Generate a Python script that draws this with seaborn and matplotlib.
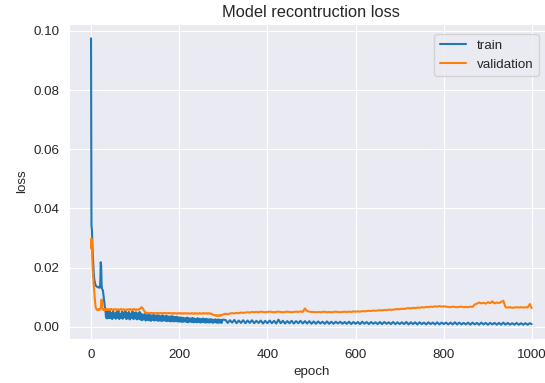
import matplotlib
matplotlib.use("Agg")
import matplotlib.pyplot as plt
import seaborn as sns
import pandas as pd

# ---------------- data ----------------
epochs = (list(range(0, 41)) + list(range(42, 300, 2))
          + list(range(305, 1000, 5)) + [999])

train_loss = [
    # 0-40
    0.0975, 0.0340, 0.0330, 0.0285, 0.0240, 0.0210, 0.0185, 0.0165, 0.0155, 0.0148,
    0.0142, 0.0139, 0.0137, 0.0136, 0.0135, 0.0134, 0.0134, 0.0133, 0.0133, 0.0132,
    0.0132, 0.0150, 0.0218, 0.0205, 0.0140, 0.0128, 0.0125, 0.0122, 0.0110, 0.0095,
    0.0085, 0.0070, 0.0062, 0.0050, 0.0031, 0.0054, 0.0028, 0.0049, 0.0033, 0.0055,
    0.0029,
    # 42-110 (step 2)
    0.0052, 0.0029, 0.0047, 0.0026, 0.0054, 0.0031, 0.0045, 0.0027, 0.0050, 0.0030,
    0.0055, 0.0026, 0.0043, 0.0029, 0.0051, 0.0027, 0.0048, 0.0032, 0.0053, 0.0026,
    0.0046, 0.0028, 0.0050, 0.0025, 0.0044, 0.0030, 0.0052, 0.0026, 0.0047, 0.0028,
    0.0049, 0.0025, 0.0045, 0.0027, 0.0050,
    # 112-200 (step 2)
    0.0024, 0.0044, 0.0022, 0.0041, 0.0025, 0.0043, 0.0021, 0.0039, 0.0023, 0.0042,
    0.0022, 0.0040, 0.0020, 0.0038, 0.0023, 0.0041, 0.0021, 0.0037, 0.0022, 0.0039,
    0.0020, 0.0038, 0.0021, 0.0036, 0.0019, 0.0039, 0.0021, 0.0035, 0.0020, 0.0037,
    0.0019, 0.0036, 0.0020, 0.0034, 0.0018, 0.0036, 0.0019, 0.0035, 0.0018, 0.0033,
    0.0019, 0.0034, 0.0018, 0.0032, 0.0017,
    # 202-298 (step 2)
    0.0032, 0.0017, 0.0031, 0.0016, 0.0030, 0.0018, 0.0029, 0.0016, 0.0031, 0.0015,
    0.0029, 0.0017, 0.0028, 0.0016, 0.0030, 0.0015, 0.0028, 0.0016, 0.0027, 0.0015,
    0.0029, 0.0016, 0.0027, 0.0014, 0.0026, 0.0016, 0.0028, 0.0015, 0.0026, 0.0014,
    0.0027, 0.0015, 0.0025, 0.0014, 0.0026, 0.0015, 0.0025, 0.0013, 0.0024, 0.0015,
    0.0025, 0.0014, 0.0024, 0.0013, 0.0025, 0.0014, 0.0023, 0.0013, 0.0024,
    # 305-500 (step 5)
    0.0023, 0.0013, 0.0022, 0.0014, 0.0023, 0.0012, 0.0021, 0.0013, 0.0022, 0.0012,
    0.0021, 0.0013, 0.0022, 0.0012, 0.0020, 0.0013, 0.0021, 0.0011, 0.0020, 0.0012,
    0.0021, 0.0012, 0.0020, 0.0011, 0.0024, 0.0012, 0.0020, 0.0011, 0.0019, 0.0012,
    0.0020, 0.0011, 0.0019, 0.0012, 0.0020, 0.0011, 0.0019, 0.0011, 0.0019, 0.0010,
    # 505-600
    0.0018, 0.0010, 0.0018, 0.0011, 0.0017, 0.0010, 0.0018, 0.0010, 0.0017, 0.0010,
    0.0017, 0.0011, 0.0017, 0.0010, 0.0016, 0.0010, 0.0017, 0.0009, 0.0016, 0.0010,
    # 605-700
    0.0016, 0.0009, 0.0017, 0.0010, 0.0016, 0.0009, 0.0016, 0.0010, 0.0015, 0.0009,
    0.0016, 0.0009, 0.0016, 0.0010, 0.0015, 0.0009, 0.0016, 0.0009, 0.0015, 0.0009,
    # 705-800
    0.0015, 0.0009, 0.0016, 0.0008, 0.0015, 0.0009, 0.0015, 0.0008, 0.0015, 0.0009,
    0.0014, 0.0008, 0.0015, 0.0009, 0.0014, 0.0008, 0.0015, 0.0008, 0.0014, 0.0009,
    # 805-900
    0.0014, 0.0008, 0.0014, 0.0008, 0.0015, 0.0008, 0.0014, 0.0008, 0.0013, 0.0008,
    0.0014, 0.0007, 0.0014, 0.0008, 0.0013, 0.0007, 0.0014, 0.0008, 0.0013, 0.0007,
    # 905-995, 999
    0.0013, 0.0008, 0.0013, 0.0007, 0.0013, 0.0007, 0.0014, 0.0007, 0.0013, 0.0007,
    0.0012, 0.0007, 0.0013, 0.0007, 0.0012, 0.0007, 0.0012, 0.0007, 0.0012,
    0.0009,
]

val_loss = [
    # 0-40
    0.0265, 0.0298, 0.0280, 0.0225, 0.0190, 0.0165, 0.0145, 0.0125, 0.0105, 0.0088,
    0.0072, 0.0063, 0.0060, 0.0058, 0.0057, 0.0059, 0.0058, 0.0057, 0.0058, 0.0059,
    0.0058, 0.0060, 0.0064, 0.0075, 0.0092, 0.0070, 0.0060, 0.0058, 0.0059, 0.0057,
    0.0058, 0.0059, 0.0057, 0.0060, 0.0058, 0.0057, 0.0059, 0.0058, 0.0057, 0.0059,
    0.0058,
    # 42-110 (step 2)
    0.0059, 0.0057, 0.0060, 0.0058, 0.0056, 0.0059, 0.0058, 0.0060, 0.0057, 0.0058,
    0.0059, 0.0057, 0.0058, 0.0060, 0.0058, 0.0057, 0.0059, 0.0058, 0.0056, 0.0058,
    0.0059, 0.0057, 0.0058, 0.0060, 0.0058, 0.0057, 0.0059, 0.0058, 0.0060, 0.0057,
    0.0058, 0.0059, 0.0057, 0.0058, 0.0060,
    # 112-200 (step 2)
    0.0062, 0.0066, 0.0064, 0.0061, 0.0055, 0.0050, 0.0048, 0.0047, 0.0046, 0.0047,
    0.0045, 0.0046, 0.0047, 0.0046, 0.0045, 0.0047, 0.0046, 0.0045, 0.0046, 0.0047,
    0.0045, 0.0046, 0.0045, 0.0047, 0.0046, 0.0045, 0.0046, 0.0047, 0.0045, 0.0046,
    0.0045, 0.0046, 0.0047, 0.0045, 0.0046, 0.0045, 0.0046, 0.0044, 0.0046, 0.0045,
    0.0046, 0.0045, 0.0044, 0.0046, 0.0045,
    # 202-298 (step 2)
    0.0046, 0.0044, 0.0045, 0.0046, 0.0044, 0.0045, 0.0046, 0.0045, 0.0044, 0.0046,
    0.0045, 0.0044, 0.0045, 0.0046, 0.0044, 0.0045, 0.0044, 0.0046, 0.0045, 0.0044,
    0.0045, 0.0044, 0.0046, 0.0045, 0.0044, 0.0045, 0.0046, 0.0044, 0.0045, 0.0046,
    0.0045, 0.0044, 0.0046, 0.0045, 0.0044, 0.0045, 0.0043, 0.0041, 0.0039, 0.0040,
    0.0038, 0.0037, 0.0039, 0.0036, 0.0038, 0.0040, 0.0037, 0.0039, 0.0041,
    # 305-500 (step 5)
    0.0044, 0.0042, 0.0045, 0.0046, 0.0045, 0.0047, 0.0046, 0.0048, 0.0047, 0.0048,
    0.0049, 0.0048, 0.0050, 0.0049, 0.0050, 0.0049, 0.0051, 0.0050, 0.0049, 0.0050,
    0.0051, 0.0050, 0.0049, 0.0050, 0.0051, 0.0050, 0.0049, 0.0050, 0.0051, 0.0050,
    0.0049, 0.0050, 0.0051, 0.0050, 0.0052, 0.0050, 0.0062, 0.0053, 0.0051, 0.0050,
    # 505-600
    0.0050, 0.0049, 0.0050, 0.0049, 0.0050, 0.0051, 0.0049, 0.0050, 0.0049, 0.0050,
    0.0051, 0.0050, 0.0049, 0.0050, 0.0051, 0.0050, 0.0051, 0.0050, 0.0052, 0.0051,
    # 605-700
    0.0052, 0.0051, 0.0053, 0.0052, 0.0053, 0.0054, 0.0053, 0.0055, 0.0054, 0.0055,
    0.0056, 0.0055, 0.0057, 0.0056, 0.0058, 0.0057, 0.0058, 0.0059, 0.0060, 0.0059,
    # 705-800
    0.0061, 0.0060, 0.0062, 0.0063, 0.0062, 0.0064, 0.0063, 0.0065, 0.0064, 0.0066,
    0.0065, 0.0067, 0.0066, 0.0068, 0.0067, 0.0069, 0.0068, 0.0070, 0.0068, 0.0069,
    # 805-900
    0.0068, 0.0067, 0.0066, 0.0068, 0.0067, 0.0066, 0.0067, 0.0068, 0.0066, 0.0067,
    0.0066, 0.0068, 0.0067, 0.0075, 0.0078, 0.0082, 0.0079, 0.0081, 0.0078, 0.0083,
    # 905-995, 999
    0.0080, 0.0086, 0.0079, 0.0082, 0.0080, 0.0084, 0.0088, 0.0066, 0.0065, 0.0066,
    0.0064, 0.0065, 0.0066, 0.0065, 0.0066, 0.0065, 0.0066, 0.0065, 0.0077,
    0.0063,
]

series_names = ["train", "validation"]
series_colors = ["#1f77b4", "#ff7f0e"]

# ---------------- plot ----------------
sns.set_style("darkgrid")
plt.rcParams["font.family"] = ["Liberation Sans", "DejaVu Sans"]

df = pd.DataFrame({
    "epoch": epochs + epochs,
    "loss": train_loss + val_loss,
    "series": [series_names[0]] * len(epochs) + [series_names[1]] * len(epochs),
})

fig = plt.figure(figsize=(5.45, 3.83), dpi=100)
ax = fig.add_axes([69 / 545, 44 / 383, 484.6 / 545, 315 / 383])

sns.lineplot(data=df, x="epoch", y="loss", hue="series",
             palette=dict(zip(series_names, series_colors)),
             linewidth=1.5, ax=ax, estimator=None, sort=False)

ax.set_title("Model recontruction loss", fontsize=11.8, color="0.15", pad=5)
ax.set_xlabel("epoch", fontsize=9.6, color="0.15")
ax.set_ylabel("loss", fontsize=9.6, color="0.15")
ax.tick_params(labelsize=9.6, colors="0.15")

ax.legend(loc="upper right", bbox_to_anchor=(539 / 545, 1 - 34 / 383),
          bbox_transform=fig.transFigure, borderaxespad=0, fontsize=9.6,
          title=None)

fig.savefig("out.png", dpi=100)
